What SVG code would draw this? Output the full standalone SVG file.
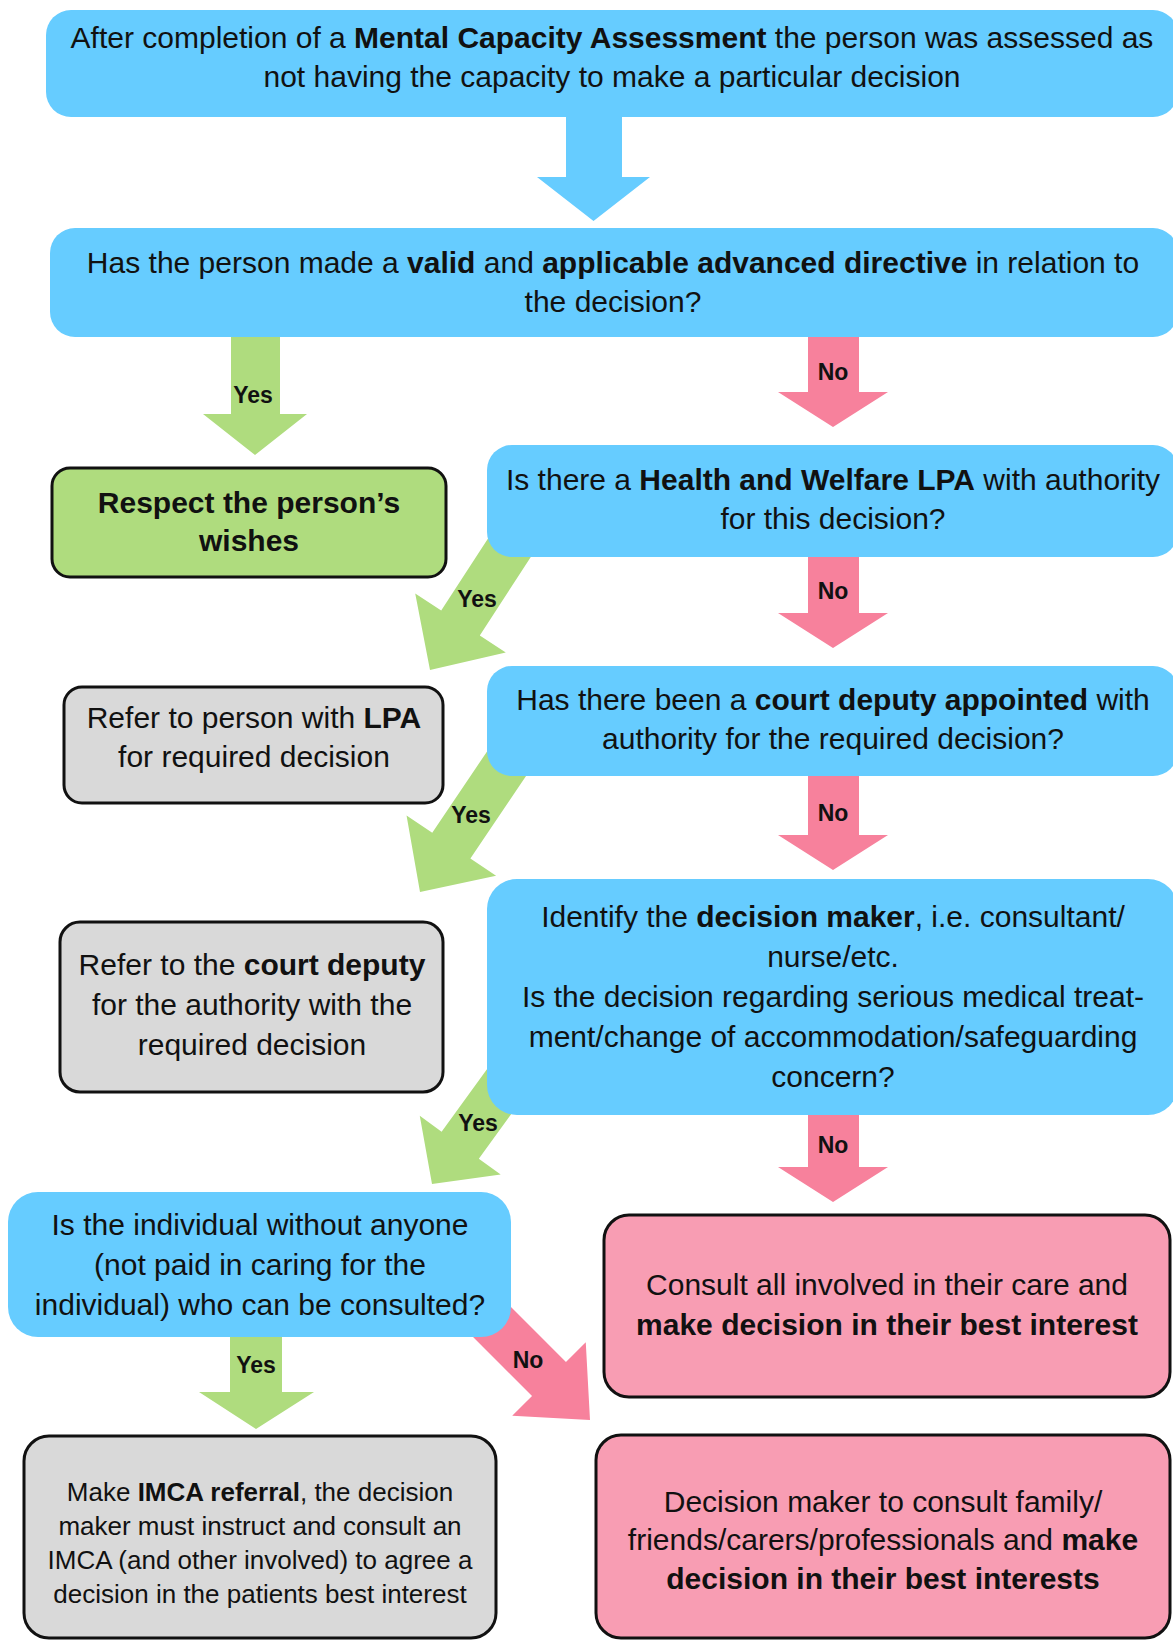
<svg xmlns="http://www.w3.org/2000/svg" width="1173" height="1641" viewBox="0 0 1173 1641">
<style>
text{font-family:"Liberation Sans",Arial,Helvetica,sans-serif;fill:#111;text-anchor:middle}
.t{font-size:30px}
.s{font-size:26px}
.lbl{font-size:23px;font-weight:bold}
.b{font-weight:bold}
.blue{fill:#66CCFF}
.green{fill:#AFDC7E}
.pinkA{fill:#F7819C}
.box{stroke:#111;stroke-width:3}
.gbox{fill:#AFDC7E}
.grey{fill:#D9D9D9}
.pbox{fill:#F89DB3}
</style>
<rect width="1173" height="1641" fill="#fff"/>
<g id="connectors">
<polygon class="blue" points="566,110 622,110 622,177 650,177 593.5,221 537,177 566,177"/>
<polygon class="green" points="231,330 280,330 280,414 307,414 255,455 203,414 231,414"/>
<polygon class="pinkA" points="808,330 859,330 859,392 888,392 833,427 778,392 808,392"/>
<polygon class="pinkA" points="808,550 859,550 859,613 888,613 833,648 778,613 808,613"/>
<polygon class="pinkA" points="808,770 859,770 859,835 888,835 833,870 778,835 808,835"/>
<polygon class="pinkA" points="808,1110 859,1110 859,1167 888,1167 833,1202 778,1167 808,1167"/>
<polygon class="green" points="230,1330 282,1330 282,1392 314,1392 256,1429 199,1392 230,1392"/>
<polygon class="green" transform="translate(430,670) rotate(33)" points="-23,-170 23,-170 23,-56 54,-56 0,0 -54,-56 -23,-56"/>
<polygon class="green" transform="translate(420,892) rotate(34)" points="-23,-170 23,-170 23,-56 54,-56 0,0 -54,-56 -23,-56"/>
<polygon class="green" transform="translate(432,1184) rotate(36)" points="-23,-160 23,-160 23,-48 50,-48 0,0 -50,-48 -23,-48"/>
<polygon class="pinkA" transform="translate(590,1420) rotate(-45)" points="-24,-170 24,-170 24,-58 52,-58 0,0 -52,-58 -24,-58"/>
<text class="lbl" x="253" y="403">Yes</text>
<text class="lbl" x="833" y="380">No</text>
<text class="lbl" x="833" y="599">No</text>
<text class="lbl" x="833" y="821">No</text>
<text class="lbl" x="833" y="1153">No</text>
<text class="lbl" x="477" y="607">Yes</text>
<text class="lbl" x="471" y="823">Yes</text>
<text class="lbl" x="478" y="1131">Yes</text>
<text class="lbl" x="528" y="1368">No</text>
<text class="lbl" x="256" y="1373">Yes</text>
</g>
<g id="n1">
<rect class="blue" x="46" y="10" width="1132" height="107" rx="25"/>
<text class="t" x="612" y="48">After completion of a <tspan class="b">Mental Capacity Assessment</tspan> the person was assessed as</text>
<text class="t" x="612" y="87">not having the capacity to make a particular decision</text>
</g>
<g id="n2">
<rect class="blue" x="50" y="228" width="1128" height="109" rx="25"/>
<text class="t" x="613" y="273">Has the person made a <tspan class="b">valid</tspan> and <tspan class="b">applicable advanced directive</tspan> in relation to</text>
<text class="t" x="613" y="312">the decision?</text>
</g>
<g id="n3">
<rect class="gbox box" x="52" y="468" width="394" height="109" rx="18"/>
<text class="t b" x="249" y="513">Respect the person’s</text>
<text class="t b" x="249" y="551">wishes</text>
</g>
<g id="n4">
<rect class="blue" x="487" y="445" width="691" height="112" rx="25"/>
<text class="t" x="833" y="490">Is there a <tspan class="b">Health and Welfare LPA</tspan> with authority</text>
<text class="t" x="833" y="529">for this decision?</text>
</g>
<g id="n5">
<rect class="grey box" x="64" y="687" width="379" height="116" rx="18"/>
<text class="t" x="254" y="728">Refer to person with <tspan class="b">LPA</tspan></text>
<text class="t" x="254" y="767">for required decision</text>
</g>
<g id="n6">
<rect class="blue" x="487" y="666" width="691" height="110" rx="25"/>
<text class="t" x="833" y="710">Has there been a <tspan class="b">court deputy appointed</tspan> with</text>
<text class="t" x="833" y="749">authority for the required decision?</text>
</g>
<g id="n7">
<rect class="grey box" x="60" y="922" width="383" height="170" rx="20"/>
<text class="t" x="252" y="975">Refer to the <tspan class="b">court deputy</tspan></text>
<text class="t" x="252" y="1015">for the authority with the</text>
<text class="t" x="252" y="1055">required decision</text>
</g>
<g id="n8">
<rect class="blue" x="487" y="879" width="691" height="236" rx="30"/>
<text class="t" x="833" y="927">Identify the <tspan class="b">decision maker</tspan>, i.e. consultant/</text>
<text class="t" x="833" y="967">nurse/etc.</text>
<text class="t" x="833" y="1007">Is the decision regarding serious medical treat-</text>
<text class="t" x="833" y="1047">ment/change of accommodation/safeguarding</text>
<text class="t" x="833" y="1087">concern?</text>
</g>
<g id="n9">
<rect class="blue" x="8" y="1192" width="503" height="145" rx="30"/>
<text class="t" x="260" y="1235">Is the individual without anyone</text>
<text class="t" x="260" y="1275">(not paid in caring for the</text>
<text class="t" x="260" y="1315">individual) who can be consulted?</text>
</g>
<g id="n10">
<rect class="pbox box" x="604" y="1215" width="566" height="182" rx="25"/>
<text class="t" x="887" y="1295">Consult all involved in their care and</text>
<text class="t b" x="887" y="1335">make decision in their best interest</text>
</g>
<g id="n11">
<rect class="grey box" x="24" y="1436" width="472" height="202" rx="25"/>
<text class="s" x="260" y="1501">Make <tspan class="b">IMCA referral</tspan>, the decision</text>
<text class="s" x="260" y="1535">maker must instruct and consult an</text>
<text class="s" x="260" y="1569">IMCA (and other involved) to agree a</text>
<text class="s" x="260" y="1603">decision in the patients best interest</text>
</g>
<g id="n12">
<rect class="pbox box" x="596" y="1435" width="574" height="203" rx="25"/>
<text class="t" x="883" y="1512">Decision maker to consult family/</text>
<text class="t" x="883" y="1550">friends/carers/professionals and <tspan class="b">make</tspan></text>
<text class="t b" x="883" y="1589">decision in their best interests</text>
</g>
</svg>
